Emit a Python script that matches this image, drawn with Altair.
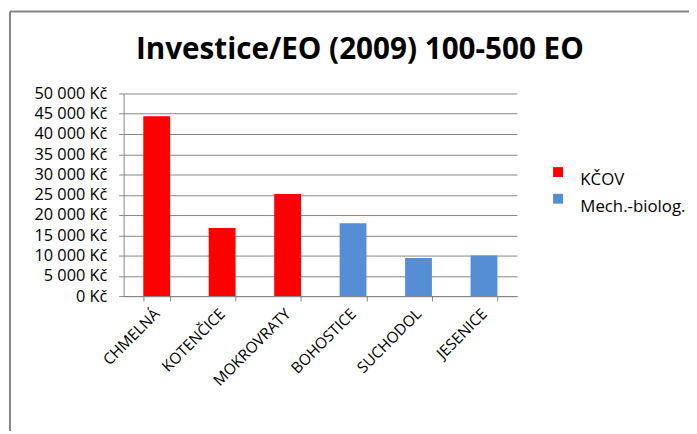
import altair as alt
import pandas as pd

categories = ["CHMELNÁ", "KOTENČICE", "MOKROVRATY", "BOHOSTICE", "SUCHODOL", "JESENICE"]
values = [44400, 16800, 25200, 18000, 9400, 10000]
types = ["KČOV", "KČOV", "KČOV", "Mech.-biolog.", "Mech.-biolog.", "Mech.-biolog."]
title_text = ["Investice/EO (2009) 100-500 EO"]

df = pd.DataFrame({"obec": categories, "hodnota": values, "typ": types})

FONT = "Open Sans"

bars = alt.Chart(df).mark_bar().encode(
    x=alt.X("obec:N", sort=categories, title=None,
            scale=alt.Scale(paddingInner=0.59, paddingOuter=0.3),
            axis=alt.Axis(labelAngle=-45, labelAlign="right", labelBaseline="middle",
                          labelPadding=10, tickBand="extent", tickSize=5,
                          tickColor="#868686", domainColor="#868686",
                          labelFont=FONT, labelFontSize=15.5, labelColor="#000000")),
    y=alt.Y("hodnota:Q", title=None,
            scale=alt.Scale(domain=[0, 50000]),
            axis=alt.Axis(values=list(range(0, 50001, 5000)), tickSize=5,
                          labelPadding=12, tickColor="#868686", domainColor="#868686",
                          gridColor="#868686", labelFont=FONT, labelFontSize=16.5,
                          labelColor="#000000",
                          labelExpr="replace(format(datum.value, ',d'), ',', ' ') + ' Kč'")),
    color=alt.Color("typ:N", title=None,
                    scale=alt.Scale(domain=["KČOV", "Mech.-biolog."],
                                    range=["#FF0000", "#558ED5"]),
                    legend=alt.Legend(orient="none", legendX=431, legendY=71,
                                      symbolType="square", symbolSize=100,
                                      symbolStrokeWidth=0, labelOffset=14,
                                      labelBaseline="top",
                                      rowPadding=2, labelFont=FONT, labelFontSize=17,
                                      labelColor="#000000")),
)

title = alt.Chart(pd.DataFrame({"t": title_text})).mark_text(
    font=FONT, fontSize=30, fontWeight="bold", color="#000000",
    align="center", baseline="alphabetic"
).encode(text="t:N", x=alt.value(239), y=alt.value(-35))

frame = alt.Chart(pd.DataFrame({"k": [0]})).mark_rule(color="#868686", strokeWidth=2).encode(
    x=alt.value(-115), y=alt.value(-83), y2=alt.value(345)
)
frame_top = alt.Chart(pd.DataFrame({"k": [0]})).mark_rule(color="#868686", strokeWidth=2).encode(
    x=alt.value(-115), x2=alt.value(580), y=alt.value(-83)
)

chart = alt.layer(bars, title, frame, frame_top).properties(
    width=398, height=205,
    autosize=alt.AutoSizeParams(type="none"),
    padding={"left": 117, "top": 84, "right": 174, "bottom": 134},
).configure_view(stroke=None).configure_axis(grid=True).configure_axisX(grid=False)

chart.save("out.html", embed_options={"renderer": "svg", "actions": False})
